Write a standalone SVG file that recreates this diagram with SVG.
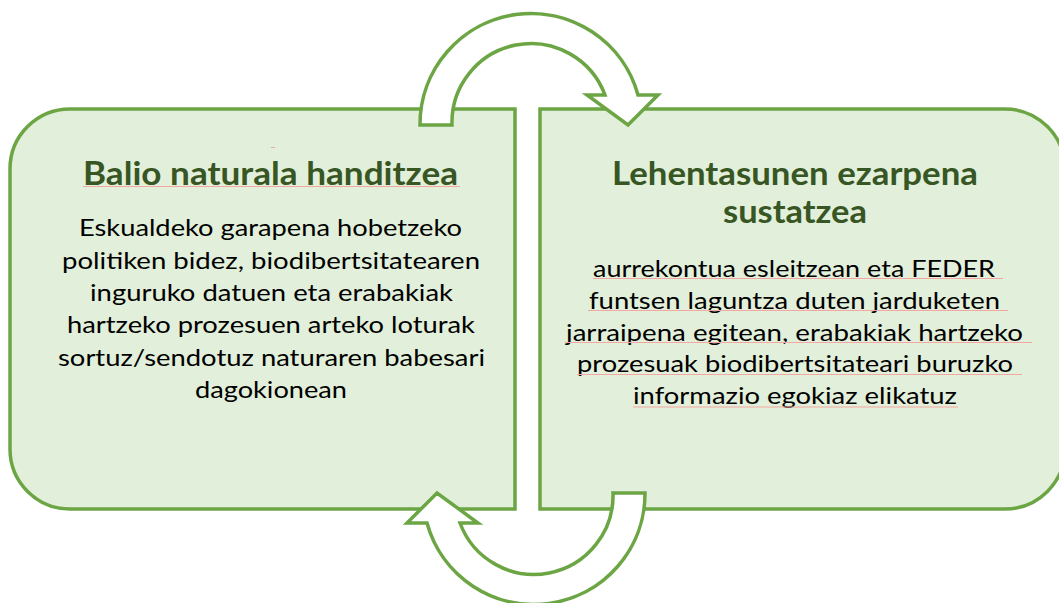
<svg xmlns="http://www.w3.org/2000/svg" width="1059" height="603" viewBox="0 0 1059 603">
  <style>
    .box { fill: #E2EFDA; stroke: #6CA544; stroke-width: 3.5; }
    .arrow { fill: #FFFFFF; stroke: #6CA544; stroke-width: 3.5; stroke-linejoin: miter; }
    .title { font-family: Lato, "Open Sans", "Liberation Sans", sans-serif; font-weight: bold; font-size: 31.5px; fill: #375623; text-anchor: middle; }
    .body { font-family: Lato, "Open Sans", "Liberation Sans", sans-serif; font-size: 23px; fill: #000000; text-anchor: middle; }
    .spell { stroke: #F4A7A1; stroke-width: 1; fill: none; }
  </style>
  <defs>
    <path id="circArrow" d="M -111,0 A 111 111 0 0 1 107,-30 L 127,-30 L 97,0 L 56,-30 L 74,-30 A 79 79 0 0 0 -79,0 Z"/>
  </defs>

  <g id="node-left">
    <path class="box" d="M 515,109 L 515,509 L 70,509 A 60 60 0 0 1 10,449 L 10,169 A 60 60 0 0 1 70,109 Z"/>
    <line class="spell" x1="271" y1="147.5" x2="275" y2="147.5"/>
    <text class="title" x="270.5" y="185" textLength="375" lengthAdjust="spacingAndGlyphs">Balio naturala handitzea</text>
    <line class="spell" x1="83" y1="186.5" x2="460" y2="186.5"/>
    <text class="body" x="270.5" y="236" textLength="383" lengthAdjust="spacingAndGlyphs">Eskualdeko garapena hobetzeko</text>
    <text class="body" x="271" y="268.5" textLength="418" lengthAdjust="spacingAndGlyphs">politiken bidez, biodibertsitatearen</text>
    <text class="body" x="271.5" y="301" textLength="363" lengthAdjust="spacingAndGlyphs">inguruko datuen eta erabakiak</text>
    <text class="body" x="271" y="333" textLength="408" lengthAdjust="spacingAndGlyphs">hartzeko prozesuen arteko loturak</text>
    <text class="body" x="271.5" y="365.5" textLength="427" lengthAdjust="spacingAndGlyphs">sortuz/sendotuz naturaren babesari</text>
    <text class="body" x="271" y="397.5" textLength="152" lengthAdjust="spacingAndGlyphs">dagokionean</text>
  </g>

  <g id="node-right">
    <path class="box" d="M 540,109 L 1005,109 A 60 60 0 0 1 1065,169 L 1065,449 A 60 60 0 0 1 1005,509 L 540,509 Z"/>
    <text class="title" x="795" y="185" textLength="366" lengthAdjust="spacingAndGlyphs">Lehentasunen ezarpena</text>
    <text class="title" x="795" y="223" textLength="144" lengthAdjust="spacingAndGlyphs">sustatzea</text>
    <text class="body" x="794" y="277" textLength="402" lengthAdjust="spacingAndGlyphs">aurrekontua esleitzean eta FEDER</text>
    <line class="spell" x1="593" y1="278.5" x2="1003" y2="278.5"/>
    <text class="body" x="794.5" y="308.5" textLength="411" lengthAdjust="spacingAndGlyphs">funtsen laguntza duten jarduketen</text>
    <line class="spell" x1="588" y1="310.5" x2="1008" y2="310.5"/>
    <text class="body" x="794.5" y="340.5" textLength="457" lengthAdjust="spacingAndGlyphs">jarraipena egitean, erabakiak hartzeko</text>
    <line class="spell" x1="565" y1="342.5" x2="1032" y2="342.5"/>
    <text class="body" x="795" y="372" textLength="436" lengthAdjust="spacingAndGlyphs">prozesuak biodibertsitateari buruzko</text>
    <line class="spell" x1="577" y1="374.5" x2="1022" y2="374.5"/>
    <text class="body" x="795" y="404" textLength="324" lengthAdjust="spacingAndGlyphs">informazio egokiaz elikatuz</text>
    <line class="spell" x1="633" y1="407" x2="958" y2="407"/>
  </g>

  <g id="connectors">
    <use href="#circArrow" class="arrow" transform="translate(531,125)"/>
    <use href="#circArrow" class="arrow" transform="translate(534,493) rotate(180)"/>
  </g>
</svg>
